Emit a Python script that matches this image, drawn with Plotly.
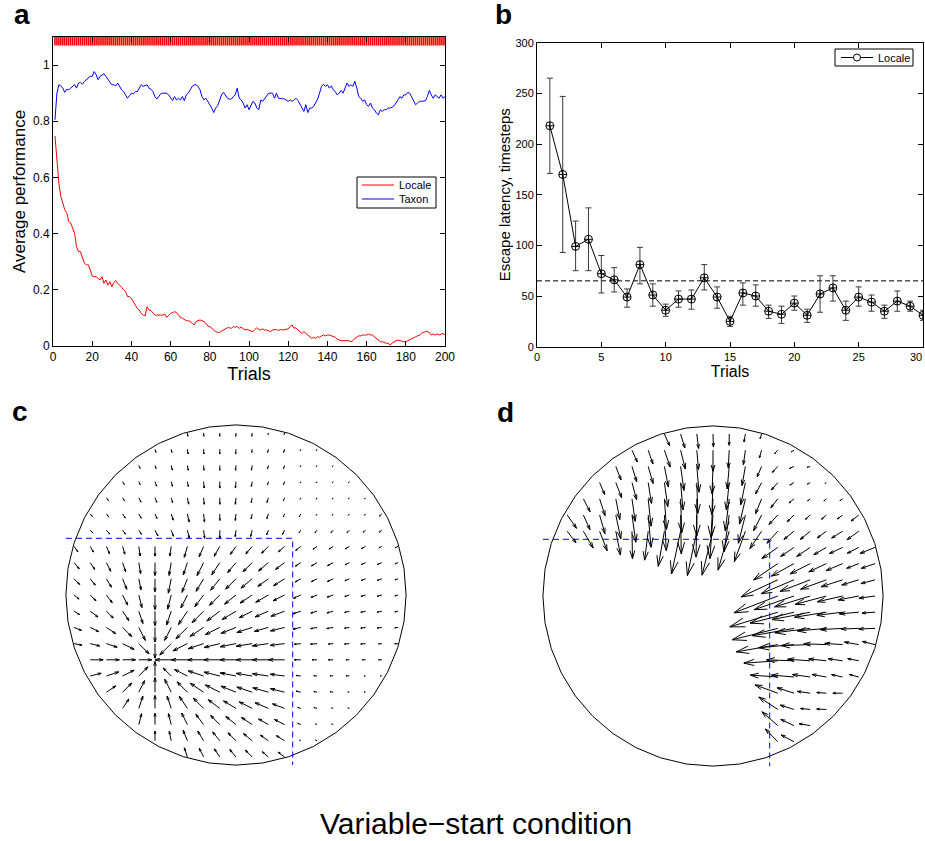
import math
import plotly.graph_objects as go

W, H = 925, 841

# ---------------- Panel a data ----------------
a_trials = list(range(1, 201))
a_locale = [
    0.748, 0.651, 0.580, 0.532, 0.508, 0.485, 0.475, 0.443, 0.439, 0.419, 0.401, 0.354, 0.336, 0.336, 0.318, 0.295, 0.289, 0.289, 0.271, 0.249,
    0.247, 0.247, 0.241, 0.235, 0.247, 0.223, 0.235, 0.217, 0.229, 0.211, 0.226, 0.233, 0.223, 0.217, 0.209, 0.200, 0.194, 0.176, 0.176, 0.170,
    0.158, 0.146, 0.134, 0.128, 0.116, 0.110, 0.107, 0.140, 0.128, 0.126, 0.116, 0.110, 0.110, 0.109, 0.110, 0.110, 0.114, 0.102, 0.110, 0.116,
    0.119, 0.122, 0.119, 0.110, 0.102, 0.099, 0.093, 0.090, 0.090, 0.087, 0.081, 0.075, 0.087, 0.090, 0.093, 0.090, 0.087, 0.081, 0.071, 0.069,
    0.063, 0.057, 0.051, 0.049, 0.048, 0.053, 0.057, 0.063, 0.065, 0.065, 0.063, 0.069, 0.067, 0.069, 0.063, 0.067, 0.063, 0.057, 0.059, 0.057,
    0.053, 0.051, 0.059, 0.065, 0.059, 0.057, 0.061, 0.057, 0.057, 0.055, 0.051, 0.057, 0.057, 0.059, 0.055, 0.059, 0.057, 0.059, 0.061, 0.061,
    0.069, 0.075, 0.063, 0.065, 0.057, 0.051, 0.045, 0.051, 0.045, 0.036, 0.033, 0.027, 0.031, 0.027, 0.033, 0.031, 0.036, 0.039, 0.036, 0.039,
    0.039, 0.036, 0.033, 0.031, 0.024, 0.021, 0.019, 0.019, 0.019, 0.019, 0.019, 0.015, 0.019, 0.027, 0.031, 0.036, 0.036, 0.039, 0.039, 0.039,
    0.043, 0.039, 0.039, 0.033, 0.024, 0.019, 0.015, 0.015, 0.012, 0.010, 0.010, 0.004, 0.010, 0.015, 0.019, 0.021, 0.019, 0.015, 0.015, 0.015,
    0.019, 0.021, 0.027, 0.031, 0.033, 0.036, 0.039, 0.045, 0.048, 0.051, 0.051, 0.048, 0.039, 0.043, 0.039, 0.043, 0.039, 0.043, 0.045, 0.039,
]
a_taxon = [
    0.805, 0.900, 0.930, 0.926, 0.918, 0.903, 0.914, 0.912, 0.918, 0.924, 0.930, 0.918, 0.936, 0.938, 0.932, 0.942, 0.948, 0.954, 0.960, 0.960,
    0.977, 0.966, 0.948, 0.960, 0.966, 0.969, 0.960, 0.950, 0.942, 0.930, 0.930, 0.926, 0.936, 0.924, 0.912, 0.906, 0.894, 0.882, 0.891, 0.900,
    0.898, 0.906, 0.905, 0.918, 0.930, 0.924, 0.926, 0.930, 0.918, 0.914, 0.906, 0.888, 0.879, 0.888, 0.898, 0.900, 0.900, 0.900, 0.894, 0.882,
    0.874, 0.888, 0.876, 0.882, 0.876, 0.888, 0.873, 0.894, 0.900, 0.912, 0.924, 0.930, 0.930, 0.924, 0.912, 0.888, 0.876, 0.882, 0.871, 0.859,
    0.847, 0.831, 0.847, 0.855, 0.876, 0.894, 0.903, 0.894, 0.882, 0.879, 0.879, 0.888, 0.894, 0.918, 0.882, 0.876, 0.865, 0.847, 0.859, 0.841,
    0.859, 0.871, 0.865, 0.847, 0.841, 0.876, 0.871, 0.882, 0.888, 0.900, 0.900, 0.900, 0.882, 0.900, 0.882, 0.880, 0.880, 0.880, 0.876, 0.871,
    0.876, 0.871, 0.876, 0.882, 0.874, 0.859, 0.847, 0.835, 0.859, 0.831, 0.847, 0.847, 0.853, 0.865, 0.879, 0.900, 0.924, 0.932, 0.924, 0.930,
    0.918, 0.926, 0.912, 0.906, 0.894, 0.900, 0.910, 0.900, 0.918, 0.936, 0.924, 0.930, 0.924, 0.942, 0.918, 0.888, 0.882, 0.871, 0.876, 0.859,
    0.853, 0.865, 0.847, 0.841, 0.829, 0.823, 0.841, 0.835, 0.841, 0.841, 0.847, 0.847, 0.850, 0.855, 0.865, 0.876, 0.888, 0.882, 0.894, 0.894,
    0.903, 0.900, 0.888, 0.871, 0.859, 0.865, 0.871, 0.871, 0.871, 0.873, 0.888, 0.910, 0.894, 0.882, 0.894, 0.888, 0.882, 0.894, 0.882, 0.888,
]
a_marker_level = 1.087
a_xticks = [0, 20, 40, 60, 80, 100, 120, 140, 160, 180, 200]
a_yticks = [0, 0.2, 0.4, 0.6, 0.8, 1]
a_yticklabels = ["0", "0.2", "0.4", "0.6", "0.8", "1"]
a_series_names = ["Locale", "Taxon"]
a_series_colors = ["#ff0000", "#0000ff"]

# ---------------- Panel b data ----------------
b_trials = list(range(1, 31))
b_latency = [218, 170, 99, 106, 72, 66, 49, 81, 51, 36, 47, 47, 68, 49, 25,
             53, 50, 35, 32, 43, 31, 52, 58, 36, 49, 44, 35, 45, 40, 31]
b_upper = [265, 247, 124, 137, 90, 78, 57, 98, 62, 42, 55, 56, 81, 59, 30,
           63, 61, 41, 40, 50, 37, 70, 70, 45, 59, 51, 41, 55, 45, 36]
b_lower = [171, 93, 75, 75, 53, 54, 39, 62, 40, 30, 39, 37, 56, 38, 20,
           41, 40, 28, 23, 36, 24, 34, 45, 26, 40, 35, 28, 35, 35, 26]
b_criterion = 65
b_xticks = [0, 5, 10, 15, 20, 25, 30]
b_xticklabels = ["0", "5", "10", "15", "20", "25", ""]   # last label drawn flush with the edge below
b_last_xtick_label = "30"
b_yticks = [0, 50, 100, 150, 200, 250, 300]
b_series_name = "Locale"

# ---------------- Panels c / d : pool geometry (grid units) ----------------
POOL_R = 10.5
QUADRANT_EDGE = 3.5

# Panel c: arrow lengths (tenths of a grid step), one list per grid row j (top to bottom),
# columns centred on the pool; arrows point to the platform (lower rows) or top target.
c_goal = (-5, -4)
c_top_target = (-1, -4)
c_mag = {
    10: [2, 2, 2, 2, 2, 1, 1],
    9: [2, 2, 3, 3, 3, 3, 2, 2, 2, 1, 1],
    8: [2, 2, 3, 3, 3, 3, 3, 3, 2, 2, 1, 1, 1],
    7: [2, 2, 3, 3, 3, 4, 4, 4, 3, 2, 2, 1, 1, 1, 1],
    6: [2, 2, 3, 3, 3, 4, 4, 4, 4, 3, 3, 2, 1, 1, 1, 1, 1],
    5: [2, 2, 3, 3, 3, 4, 5, 5, 4, 4, 3, 3, 2, 2, 1, 1, 1, 1, 2],
    4: [2, 3, 3, 3, 4, 4, 5, 5, 5, 4, 4, 3, 3, 2, 2, 2, 2, 2, 2],
    3: [4, 4, 5, 5, 6, 6, 6, 7, 7, 7, 6, 6, 6, 5, 4, 3, 3, 3, 3, 2, 2],
    2: [5, 5, 6, 6, 7, 8, 8, 8, 9, 9, 8, 8, 8, 7, 4, 4, 4, 3, 3, 3, 2],
    1: [5, 5, 6, 7, 7, 8, 9, 9, 9, 9, 9, 9, 8, 8, 4, 4, 4, 3, 3, 3, 2],
    0: [4, 5, 6, 7, 8, 9, 9, 9, 9, 9, 9, 9, 9, 8, 5, 4, 4, 3, 3, 3, 2],
    -1: [4, 6, 6, 7, 8, 9, 9, 10, 10, 10, 10, 9, 9, 9, 5, 4, 4, 3, 3, 3, 2],
    -2: [5, 6, 7, 8, 9, 9, 9, 10, 10, 10, 10, 10, 9, 9, 5, 4, 4, 3, 3, 3, 2],
    -3: [5, 6, 7, 8, 9, 9, 10, 10, 10, 10, 10, 10, 10, 9, 4, 4, 3, 3, 3, 2, 2],
    -4: [8, 8, 8, 8, 0, 10, 10, 10, 10, 10, 10, 10, 10, 4, 3, 3, 2, 2, 2],
    -5: [7, 8, 8, 8, 9, 7, 9, 10, 10, 10, 10, 10, 9, 3, 2, 2, 2, 1, 1],
    -6: [7, 8, 8, 9, 9, 9, 10, 10, 10, 10, 10, 9, 3, 2, 2, 1, 1],
    -7: [7, 8, 8, 8, 9, 9, 9, 9, 9, 9, 8, 2, 2, 1, 1],
    -8: [7, 7, 7, 8, 8, 8, 8, 8, 7, 7, 2, 1, 1],
    -9: [6, 6, 7, 7, 7, 7, 7, 6, 6, 1, 1],
    -10: [6, 6, 6, 6, 6, 5, 5],
}

# Panel d: row j -> (first column i, lengths in tenths of grid step, angles in degrees)
d_rows = {
    10: (-3, [8, 9, 9, 8, 7, 5, 3], [-66, -73, -83, -88, -90, -100, -108]),
    9: (-5, [8, 9, 11, 12, 12, 13, 11, 9, 5, 3, 2],
        [-66, -71, -71, -76, -85, -90, -93, -98, -106, -133, -150]),
    8: (-6, [9, 10, 11, 13, 15, 16, 17, 14, 12, 7, 5, 3, 2],
        [-69, -73, -74, -79, -82, -85, -92, -95, -100, -113, -132, -155, -162]),
    7: (-7, [8, 10, 11, 13, 15, 17, 19, 20, 17, 14, 8, 6, 3, 2, 1],
        [-67, -69, -75, -81, -82, -85, -88, -92, -96, -102, -118, -131, -150, -150, -150]),
    6: (-8, [9, 11, 13, 14, 17, 19, 21, 23, 24, 20, 16, 10, 7, 4, 2, 2, 2],
        [-63, -72, -79, -82, -84, -86, -88, -90, -93, -97, -103, -112, -128, -140, -141, -140, -145]),
    5: (-9, [10, 10, 12, 15, 17, 20, 22, 24, 26, 27, 23, 18, 11, 8, 6, 4, 4, 4, 6],
        [-55, -66, -74, -78, -82, -85, -87, -89, -91, -94, -98, -104, -117, -133, -135, -137, -139, -143, -142]),
    4: (-9, [9, 12, 13, 15, 17, 18, 22, 27, 28, 28, 25, 20, 13, 10, 8, 8, 7, 8, 9],
        [-53, -60, -69, -79, -89, -97, -100, -102, -102, -104, -106, -110, -124, -132, -141, -140, -144, -148, -144]),
    3: (4, [12, 10, 10, 9, 9, 8, 10], [-145, -146, -146, -150, -155, -153, -158]),
    2: (4, [18, 16, 14, 12, 11, 8, 9], [-146, -151, -153, -155, -157, -159, -161]),
    1: (4, [25, 22, 20, 17, 14, 11, 9], [-155, -157, -159, -160, -162, -163, -165]),
    0: (4, [29, 26, 23, 20, 16, 13, 10], [-159, -161, -163, -165, -167, -169, -172]),
    -1: (4, [31, 28, 24, 20, 16, 12, 8], [-163, -166, -169, -171, -173, -175, -176]),
    -2: (4, [29, 26, 22, 18, 14, 11, 10], [-166, -170, -173, -175, -177, -178, -178]),
    -3: (4, [26, 22, 18, 14, 11, 9, 8], [-170, -175, -178, 178, 176, 170, 166]),
    -4: (4, [21, 17, 14, 11, 9, 7], [-176, 178, 176, 174, 172, 169]),
    -5: (4, [17, 14, 11, 9, 7, 6], [176, 175, 172, 170, 168, 165]),
    -6: (4, [15, 11, 8, 6, 6], [160, 162, 172, 176, 180]),
    -7: (4, [14, 9, 6, 6], [147, 163, 175, 178]),
    -8: (4, [13, 9, 7], [139, 155, 170]),
    -9: (4, [11, 9], [134, 152]),
}


def arrow_paths(tails, vecs, alpha=0.3, beta=0.3):
    xs, ys = [], []
    for (x, y), (u, v) in zip(tails, vecs):
        if u == 0 and v == 0:
            continue
        tx, ty = x + u, y + v
        xs += [x, tx, None, tx - alpha * (u + beta * v), tx, tx - alpha * (u - beta * v), None]
        ys += [y, ty, None, ty - alpha * (v - beta * u), ty, ty - alpha * (v + beta * u), None]
    return xs, ys


def c_field():
    tails, vecs = [], []
    for j, vals in c_mag.items():
        imax = (len(vals) - 1) // 2
        for k, m in enumerate(vals):
            i = -imax + k
            tgt = c_goal if j <= 3 else c_top_target
            dx, dy = tgt[0] - i, tgt[1] - j
            n = math.hypot(dx, dy)
            if m == 0 or n == 0:
                continue
            L = m / 10.0
            tails.append((i, j))
            vecs.append((L * dx / n, L * dy / n))
    return tails, vecs


def d_field():
    tails, vecs = [], []
    for j, (i0, mags, angs) in d_rows.items():
        for k, (m, a) in enumerate(zip(mags, angs)):
            L = m / 10.0
            th = math.radians(a)
            tails.append((i0 + k, j))
            vecs.append((L * math.cos(th), L * math.sin(th)))
    return tails, vecs


def pool_outline(n=40):
    xs = [POOL_R * math.cos(2 * math.pi * k / n) for k in range(n + 1)]
    ys = [POOL_R * math.sin(2 * math.pi * k / n) for k in range(n + 1)]
    return xs, ys


def px_x(p):
    return p / W


def px_y(p):
    return 1 - p / H


fig = go.Figure()

# ---- Panel a ----
fig.add_trace(go.Scatter(x=a_trials, y=[a_marker_level] * len(a_trials), mode="markers",
                         marker=dict(symbol="line-ns", size=7, line=dict(color="#ff0000", width=1.6)),
                         showlegend=False, xaxis="x", yaxis="y", hoverinfo="skip"))
for name, col, ser in zip(a_series_names, a_series_colors, [a_locale, a_taxon]):
    fig.add_trace(go.Scatter(x=a_trials, y=ser, mode="lines", name=name,
                             line=dict(color=col, width=1), xaxis="x", yaxis="y", showlegend=False))

# ---- Panel b ----
fig.add_trace(go.Scatter(x=[0, 30], y=[b_criterion, b_criterion], mode="lines",
                         line=dict(color="black", width=1, dash="5px,3px"), showlegend=False,
                         xaxis="x2", yaxis="y2", hoverinfo="skip"))
fig.add_trace(go.Scatter(
    x=b_trials, y=b_latency, mode="lines+markers", name=b_series_name,
    line=dict(color="black", width=1),
    marker=dict(symbol="circle-cross-open", size=8, color="black", line=dict(width=1, color="black")),
    error_y=dict(type="data", symmetric=False,
                 array=[u - m for u, m in zip(b_upper, b_latency)],
                 arrayminus=[m - l for m, l in zip(b_latency, b_lower)],
                 color="#3a3a3a", thickness=1, width=3),
    xaxis="x2", yaxis="y2", showlegend=False))

# ---- Panels c and d ----
for xa, ya, field in (("x3", "y3", c_field), ("x4", "y4", d_field)):
    cx, cy = pool_outline()
    fig.add_trace(go.Scatter(x=cx, y=cy, mode="lines", line=dict(color="black", width=1),
                             showlegend=False, xaxis=xa, yaxis=ya, hoverinfo="skip"))
    fig.add_trace(go.Scatter(x=[-POOL_R, QUADRANT_EDGE, QUADRANT_EDGE], y=[QUADRANT_EDGE, QUADRANT_EDGE, -POOL_R],
                             mode="lines", line=dict(color="#0000ff", width=1, dash="6px,4px"),
                             showlegend=False, xaxis=xa, yaxis=ya, hoverinfo="skip"))
    t, v = field()
    qx, qy = arrow_paths(t, v)
    fig.add_trace(go.Scatter(x=qx, y=qy, mode="lines", line=dict(color="black", width=1),
                             showlegend=False, xaxis=xa, yaxis=ya, hoverinfo="skip"))

FONT = "Liberation Sans, Arial, sans-serif"


def axis_style(tick_size):
    return dict(showline=True, linecolor="black", linewidth=1, mirror="allticks", ticks="inside",
                ticklen=5, tickcolor="black", showgrid=False, zeroline=False, automargin=False,
                ticklabeloverflow="allow",
                tickfont=dict(family=FONT, size=tick_size, color="black"))


hidden = dict(visible=False, showgrid=False, zeroline=False, range=[-11, 11])

fig.update_layout(
    width=W, height=H, margin=dict(l=0, r=0, t=0, b=0),
    paper_bgcolor="white", plot_bgcolor="white",
    font=dict(family=FONT, color="black"),
    xaxis=dict(domain=[px_x(53), px_x(445)], range=[0, 200], tickvals=a_xticks, anchor="y",
               title=dict(text="Trials", font=dict(size=18), standoff=1), **axis_style(12)),
    yaxis=dict(domain=[px_y(346), px_y(37)], range=[0, 1.1], tickvals=a_yticks, ticktext=a_yticklabels,
               anchor="x", title=dict(text="Average performance", font=dict(size=17), standoff=2), **axis_style(12)),
    xaxis2=dict(domain=[px_x(537), px_x(923)], range=[0, 30], tickvals=b_xticks, ticktext=b_xticklabels,
                anchor="y2", title=dict(text="Trials", font=dict(size=16), standoff=0), **axis_style(11)),
    yaxis2=dict(domain=[px_y(346.7), px_y(42.7)], range=[0, 300], tickvals=b_yticks, anchor="x2",
                title=dict(text="Escape latency, timesteps", font=dict(size=15), standoff=1), **axis_style(11)),
    xaxis3=dict(domain=[px_x(57.8), px_x(414.2)], anchor="y3", **hidden),
    yaxis3=dict(domain=[px_y(773.2), px_y(416.8)], anchor="x3", **hidden),
    xaxis4=dict(domain=[px_x(534.8), px_x(891.2)], anchor="y4", **hidden),
    yaxis4=dict(domain=[px_y(774.2), px_y(417.8)], anchor="x4", **hidden),
    showlegend=False,
)

# ---- hand-drawn legends (boxes match the reference layout) ----
def pbox(x0, y0, x1, y1, kind="rect", **kw):
    fig.add_shape(type=kind, xref="paper", yref="paper", x0=px_x(x0), x1=px_x(x1),
                  y0=px_y(y1), y1=px_y(y0), layer="above", **kw)


def pline(x0, y0, x1, y1, color):
    fig.add_shape(type="line", xref="paper", yref="paper", x0=px_x(x0), x1=px_x(x1),
                  y0=px_y(y0), y1=px_y(y1), layer="above", line=dict(color=color, width=1))


def ptext(txt, x, y, size=11, anchor="left"):
    fig.add_annotation(text=txt, x=px_x(x), y=px_y(y), xref="paper", yref="paper", showarrow=False,
                       xanchor=anchor, yanchor="middle", font=dict(family=FONT, size=size, color="black"))


pbox(357, 177, 436, 208, line=dict(color="black", width=1), fillcolor="white")
for k, (name, col) in enumerate(zip(a_series_names, a_series_colors)):
    yy = 185 + 14 * k
    pline(362, yy, 394, yy, col)
    ptext(name, 397, yy)

pbox(835, 49, 913, 66, line=dict(color="black", width=1), fillcolor="white")
pline(841, 57.5, 873, 57.5, "black")
pbox(853.5, 54, 860.5, 61, kind="circle", line=dict(color="black", width=1), fillcolor="white")
ptext(b_series_name, 876, 57.5)

# last x tick label of panel b, kept inside the page edge
ptext(b_last_xtick_label, 924, 356.5, size=11, anchor="right")

labels = [("a", 22, 14), ("b", 503, 15), ("c", 20, 411), ("d", 505, 412)]
for txt, x, y in labels:
    fig.add_annotation(text=f"<b>{txt}</b>", x=px_x(x), y=px_y(y), xref="paper", yref="paper",
                       showarrow=False, xanchor="center", yanchor="middle",
                       font=dict(family=FONT, size=28, color="black"))
fig.add_annotation(text="Variable\u2212start condition", x=px_x(476), y=px_y(823), xref="paper", yref="paper",
                   showarrow=False, xanchor="center", yanchor="middle",
                   font=dict(family=FONT, size=30, color="black"))

fig.write_html("out.html", config={"displayModeBar": False, "staticPlot": True},
               post_script="document.body.style.margin='0px';document.documentElement.style.overflow='hidden';")
